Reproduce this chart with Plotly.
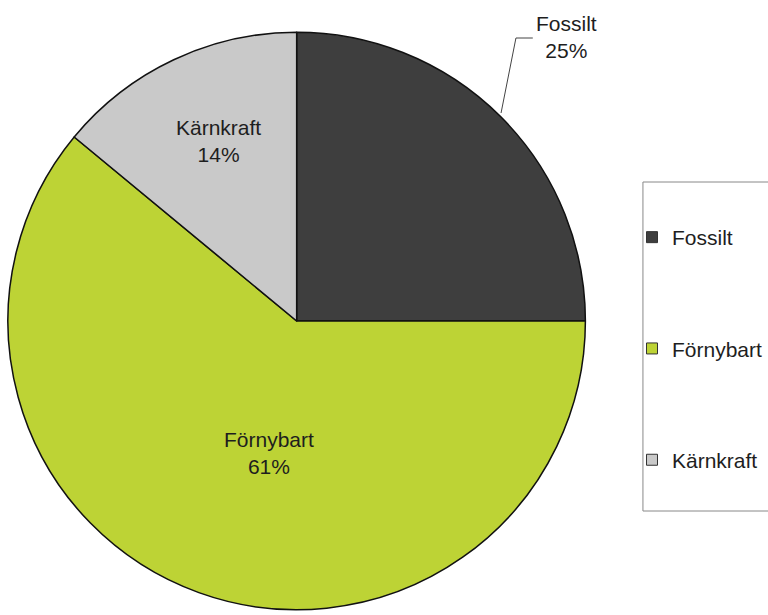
import plotly.graph_objects as go

# Energy mix shares (percent)
categories = ["Fossilt", "Förnybart", "Kärnkraft"]
shares = [25, 61, 14]
colors = ["#3e3e3e", "#bdd335", "#c9c9c9"]

W, H = 768, 615
FONT = "Arial, Liberation Sans, sans-serif"
TEXT = "#1e1e1e"


def px(x):
    return x / W


def py(y):
    return 1 - y / H


fig = go.Figure()

# Pie: starts at 12 o'clock and runs clockwise
cx, cy, r = 299, 321, 291
fig.add_trace(go.Pie(
    labels=categories,
    values=shares,
    sort=False,
    direction="clockwise",
    rotation=0,
    marker=dict(colors=colors, line=dict(color="#111111", width=1.5)),
    textinfo="none",
    hoverinfo="label+percent",
    showlegend=False,
    domain=dict(x=[px(cx - r), px(cx + r)], y=[py(cy + r), py(cy - r)]),
))

# Legend entries as square markers, one group each so they can be spread out
for name, col in zip(categories, colors):
    fig.add_trace(go.Scatter(
        x=[None], y=[None], mode="markers", name=name, legendgroup=name,
        marker=dict(symbol="square", size=11, color=col,
                    line=dict(color="#333333", width=1)),
    ))

# Slice labels: name and rounded share
total = sum(shares)
label_pos = {"Fossilt": (571, 37), "Förnybart": (271, 453), "Kärnkraft": (220, 141)}
for name, val in zip(categories, shares):
    x, y = label_pos[name]
    fig.add_annotation(
        x=px(x), y=py(y), xref="paper", yref="paper",
        xanchor="center", yanchor="middle",
        text=f"{name}<br>{round(100 * val / total)}%",
        showarrow=False, align="center",
        font=dict(family=FONT, size=21, color=TEXT),
    )

# Leader line for the outside label
fig.add_shape(
    type="path", xref="paper", yref="paper",
    path=f"M {px(505)} {py(113)} L {px(520)} {py(38)} L {px(537)} {py(38)}",
    line=dict(color="#444444", width=1),
)

# Legend frame
fig.add_shape(
    type="rect", xref="paper", yref="paper",
    x0=px(648), x1=px(790), y0=py(511), y1=py(182),
    line=dict(color="#888888", width=1),
)

fig.update_layout(
    width=W, height=H,
    margin=dict(l=0, r=0, t=0, b=0),
    paper_bgcolor="white", plot_bgcolor="white",
    xaxis=dict(visible=False), yaxis=dict(visible=False),
    showlegend=True,
    legend=dict(
        x=px(637), y=py(217), xanchor="left", yanchor="top",
        font=dict(family=FONT, size=21, color=TEXT),
        bgcolor="rgba(0,0,0,0)", borderwidth=0,
        tracegroupgap=81, itemclick=False, itemdoubleclick=False,
    ),
)

fig.write_html("out.html")
